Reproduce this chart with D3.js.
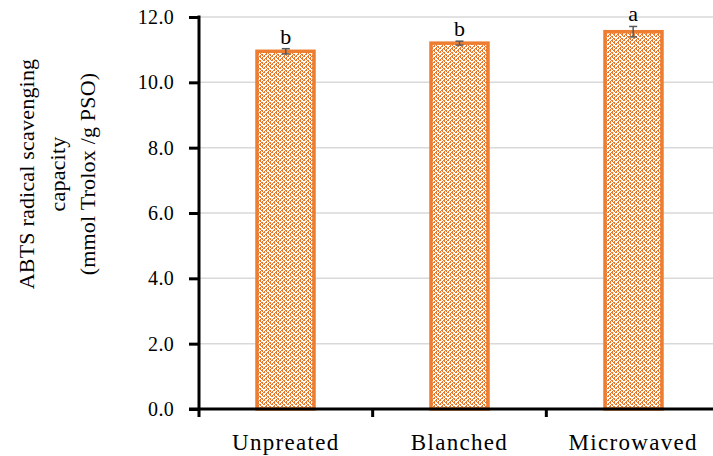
<!DOCTYPE html>
<html><head><meta charset="utf-8">
<script src="https://cdn.jsdelivr.net/npm/d3@7"></script>
<style>body{margin:0;background:#fff}svg{display:block}text{font-family:"Liberation Serif","DejaVu Serif",serif;fill:#000}</style>
</head><body>
<svg id="c" width="713" height="456"></svg>
<script>
const categories = ["Unpreated", "Blanched", "Microwaved"];
const values = [10.95, 11.2, 11.55];
const errors = [0.08, 0.06, 0.16];
const letters = ["b", "b", "a"];
const yTicks = [0, 2, 4, 6, 8, 10, 12];
const yTitle = ["ABTS radical scavenging", "capacity", "(mmol Trolox /g PSO)"];

const svg = d3.select("#c");
const mLeft = 199, mRight = 720, mTop = 17, mBottom = 409;
const x = d3.scaleBand().domain(categories).range([mLeft, mRight]).paddingInner(0).paddingOuter(0);
const y = d3.scaleLinear().domain([0, 12]).range([mBottom, mTop]);
const orange = "#ED7D31";

// pattern (weave)
const defs = svg.append("defs");
const pat = defs.append("pattern").attr("id", "weave").attr("patternUnits", "userSpaceOnUse")
  .attr("width", 8).attr("height", 8);
pat.append("rect").attr("width", 8).attr("height", 8).attr("fill", "#fff");
const bits = [0x11, 0x2a, 0x44, 0xa2, 0x11, 0x28, 0x44, 0x8a];
bits.forEach((b, r) => {
  const bb = b | ((b >> 1) | ((b & 1) << 7)) & (r % 2 ? 0x00 : 0xff);
  for (let c = 0; c < 8; c++) if (bb & (0x80 >> c))
    pat.append("rect").attr("x", c).attr("y", r).attr("width", 1).attr("height", 1)
      .attr("fill", "#E87528").attr("shape-rendering", "crispEdges");
});

// grid
svg.append("g").selectAll("line").data(yTicks.filter(d => d > 0)).join("line")
  .attr("x1", mLeft).attr("x2", 713).attr("y1", d => y(d)).attr("y2", d => y(d))
  .attr("stroke", "#d9d9d9").attr("stroke-width", 1.5);

// bars
const bw = 57;
svg.append("g").selectAll("rect").data(categories).join("rect")
  .attr("x", d => Math.round(x(d) + x.bandwidth() / 2 - bw / 2))
  .attr("y", (d, i) => y(values[i]))
  .attr("width", bw)
  .attr("height", (d, i) => y(0) - y(values[i]))
  .attr("fill", "url(#weave)").attr("stroke", orange).attr("stroke-width", 3.5);

// error bars
const eb = svg.append("g").attr("stroke", "#595959").attr("stroke-width", 1.5);
categories.forEach((c, i) => {
  const cx = x(c) + x.bandwidth() / 2;
  eb.append("line").attr("x1", cx).attr("x2", cx).attr("y1", y(values[i] - errors[i])).attr("y2", y(values[i] + errors[i]));
  [values[i] - errors[i], values[i] + errors[i]].forEach(v =>
    eb.append("line").attr("x1", cx - 4).attr("x2", cx + 4).attr("y1", y(v)).attr("y2", y(v)));
});

// letters
svg.append("g").selectAll("text").data(categories).join("text")
  .attr("x", d => x(d) + x.bandwidth() / 2)
  .attr("y", (d, i) => y(values[i] + errors[i]) - 5)
  .attr("text-anchor", "middle").attr("font-size", 22)
  .text((d, i) => letters[i]);

// y axis
const yAxis = d3.axisLeft(y).tickValues(yTicks).tickFormat(d3.format(".1f")).tickSize(10).tickPadding(15);
const gy = svg.append("g").attr("transform", `translate(${mLeft},0)`).call(yAxis);
gy.select(".domain").remove();
gy.selectAll(".tick line").attr("stroke", "#000").attr("stroke-width", 3);
gy.selectAll(".tick text").attr("font-size", 20).attr("letter-spacing", 0.3)
  .attr("font-family", "Liberation Serif, serif").attr("fill", "#000");
svg.append("line").attr("x1", mLeft).attr("x2", mLeft).attr("y1", mTop - 1.5).attr("y2", mBottom + 8)
  .attr("stroke", "#000").attr("stroke-width", 3);

// x axis
svg.append("line").attr("x1", mLeft - 10).attr("x2", 713).attr("y1", mBottom).attr("y2", mBottom)
  .attr("stroke", "#000").attr("stroke-width", 3);
const bounds = categories.slice(1).map(c => x(c));
svg.append("g").selectAll("line").data(bounds).join("line")
  .attr("x1", d => d).attr("x2", d => d).attr("y1", mBottom).attr("y2", mBottom + 8)
  .attr("stroke", "#000").attr("stroke-width", 3);
svg.append("g").selectAll("text").data(categories).join("text")
  .attr("x", d => x(d) + x.bandwidth() / 2).attr("y", 450)
  .attr("text-anchor", "middle").attr("font-size", 23).attr("letter-spacing", 1.3).text(d => d);

// y title
const t = svg.append("text").attr("transform", "translate(65,174) rotate(-90)")
  .attr("text-anchor", "middle").attr("font-size", 22).attr("letter-spacing", 0.2);
yTitle.forEach((s, i) => t.append("tspan").attr("x", 0).attr("dy", i === 0 ? -31 : 30.5).text(s));
</script>
</body></html>
